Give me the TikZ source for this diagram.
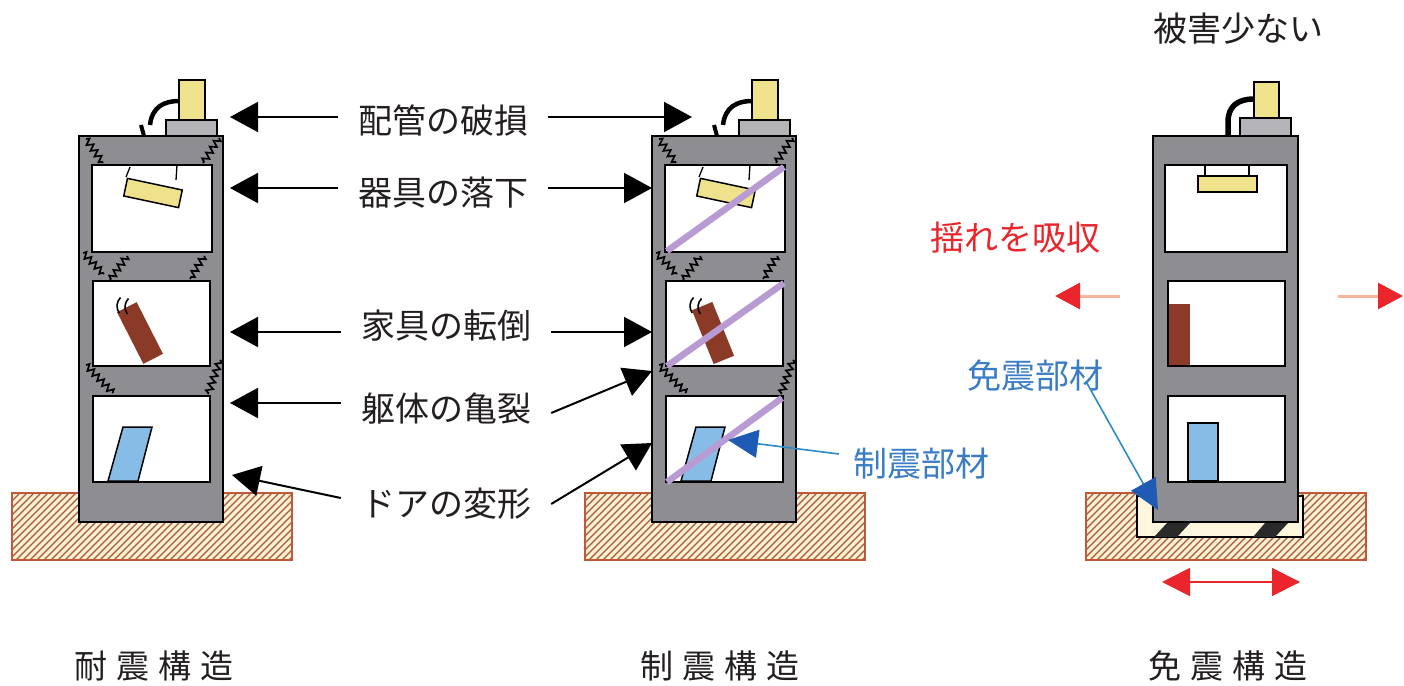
\documentclass[tikz,border=0pt]{standalone}
\usepackage{fontspec}
\newfontfamily\jp{Noto Sans CJK JP}
\usetikzlibrary{arrows.meta,calc,decorations.pathmorphing}

\definecolor{wallgray}{HTML}{8E8E92}
\definecolor{roofgray}{HTML}{B4B4B8}
\definecolor{lampyellow}{HTML}{EEE28C}
\definecolor{furnbrown}{HTML}{8C3A28}
\definecolor{doorblue}{HTML}{86BCE6}
\definecolor{bracepurple}{HTML}{B99BD3}
\definecolor{soilcream}{HTML}{FBF0D2}
\definecolor{soilbrown}{HTML}{A85A38}
\definecolor{soiledge}{HTML}{C0583A}
\definecolor{padcream}{HTML}{FDF6DC}
\definecolor{bearing}{HTML}{2A2A2A}
\definecolor{alertred}{HTML}{E8262B}
\definecolor{tailpink}{HTML}{F5B596}
\definecolor{noteblue}{HTML}{3B7DC4}
\definecolor{leaderblue}{HTML}{2B8BC8}
\definecolor{deepblue}{HTML}{1F5BB5}
\definecolor{textdark}{HTML}{231F20}

\tikzset{
  housefr/.style={fill=wallgray, draw=black, line width=2bp},
  room/.style={fill=white, draw=black, line width=2bp},
  thinline/.style={draw=black, line width=1.5bp},
  crackline/.style={draw=black, line width=1.7bp, decorate,
    decoration={zigzag, segment length=7bp, amplitude=3.2bp}},
  bracebar/.style={draw=bracepurple, line width=6.5bp},
  lbl/.style={font=\jp\fontsize{34bp}{40bp}\selectfont, text=textdark,
    inner xsep=20bp, inner ysep=0bp},
  title/.style={font=\jp\fontsize{33bp}{40bp}\selectfont, text=textdark, inner sep=0bp},
  callout/.style={draw=black, line width=2bp, -{Triangle[length=28bp,width=30bp]}},
}

% hatched ground block: x1 y1 x2 y2
\newcommand\soilbed[4]{%
  \begin{scope}
    \clip (#1,#2) rectangle (#3,#4);
    \fill[soilcream] (#1,#2) rectangle (#3,#4);
    \foreach \k in {0,...,52}
      \draw[soilbrown, line width=1.25bp] ({#1-75+7*\k},#4+2) -- ++(75,-75);
  \end{scope}
  \draw[soiledge, line width=1.2bp] (#1,#2) rectangle (#3,#4);
}

% damaged building (frame, roof equipment, lamp, furniture, door, cracks)
\newcommand\damagedhouse[1]{%
  \path[housefr] (79,136) rectangle (223,522);
  \path[room] (92,165) rectangle (212,252);
  \path[room] (93,281) rectangle (210,366);
  \path[room] (93,396) rectangle (210,482);
  % roof unit and broken pipe
  \path[thinline, fill=roofgray] (166,120) rectangle (217,136);
  \path[thinline, fill=lampyellow] (179,80) rectangle (205,120);
  \draw[line width=4.5bp] (150,125) .. controls (152,107) and (164,101) .. (179,101);
  \draw[line width=4bp] (141,125) -- (144,136);
  % hanging lamp with one wire torn
  \draw[line width=1.3bp] (177,165) -- (176,180);
  \draw[line width=1.3bp] (130,167) -- (126,177);
  \path[thinline, fill=lampyellow, rotate around={-12:(153,193)}] (125,184) rectangle (181,202);
  % toppling furniture with shaking marks
  \fill[furnbrown, rotate around={#1:(140,333)}] (129,304) rectangle (151,362);
  \draw[line width=1.6bp] ([shift={(145:12)}]129,306) arc[start angle=145, end angle=225, radius=12];
  \draw[line width=1.6bp] ([shift={(145:12)}]137,307) arc[start angle=145, end angle=225, radius=12];
  % deformed door
  \path[thinline, fill=doorblue] (108,481) -- (138,481) -- (152,427) -- (123,427) -- cycle;
  % cracks in the slabs
  \draw[crackline] (86,139) -- (103,163);
  \draw[crackline] (219,138) -- (203,163);
  \draw[crackline] (83,253) -- (104,274);
  \draw[crackline] (127,256) -- (110,280);
  \draw[crackline] (204,256) -- (190,279);
  \draw[crackline] (86,365) -- (113,393);
  \draw[crackline] (220,360) -- (208,394);
}

\begin{document}
\begin{tikzpicture}[x=1bp, y=-1bp]
\useasboundingbox (0,0) rectangle (1404,686);

% ---------------- grounds ----------------
\soilbed{12}{493}{292}{560}
\soilbed{585}{493}{865}{560}
\soilbed{1086}{493}{1366}{560}

% ---------------- earthquake-resistant building ----------------
\damagedhouse{27}

% ---------------- damped building ----------------
\begin{scope}[shift={(573,0)}]
  \damagedhouse{22}
\end{scope}
\draw[bracebar] (667,251) -- (784,167);
\draw[bracebar] (667,366) -- (784,283);
\draw[bracebar] (667,482) -- (782,398);

% ---------------- base-isolated building ----------------
\path[thinline, fill=padcream] (1137,496) rectangle (1303,537);
\fill[bearing] (1154,537) -- (1177,537) -- (1190,523) -- (1167,523) -- cycle;
\fill[bearing] (1253,537) -- (1275,537) -- (1288,523) -- (1265,523) -- cycle;
\path[housefr] (1153,136) rectangle (1298,522);
\path[room] (1165,165) rectangle (1287,252);
\path[room] (1168,281) rectangle (1285,366);
\path[room] (1168,396) rectangle (1285,482);
\path[thinline, fill=roofgray] (1240,118) rectangle (1291,136);
\path[thinline, fill=lampyellow] (1254,82) rectangle (1279,118);
\draw[line width=5.5bp] (1228,136) -- (1228,122) .. controls (1228,106) and (1238,99) .. (1254,99);
\draw[line width=1.3bp] (1205,165) -- (1205,176) (1249,165) -- (1249,176);
\path[thinline, fill=lampyellow] (1198,176) rectangle (1257,192);
\fill[furnbrown] (1169,304) rectangle (1190,365);
\path[thinline, fill=doorblue] (1188,423) rectangle (1218,481);

% ---------------- damage labels and arrows ----------------
\node[lbl] (pipe) at (443,121) {配管の破損};
\node[lbl] (fixture) at (443,193) {器具の落下};
\node[lbl] (furniture) at (446,326) {家具の転倒};
\node[lbl] (fissure) at (446,409) {躯体の亀裂};
\node[lbl] (door) at (446,504) {ドアの変形};

\coordinate (pipeL) at (230,117);
\coordinate (fixtureL) at (230,188);
\coordinate (furnitureL) at (230,332);
\coordinate (fissureL) at (230,403);
\coordinate (doorL) at (232,475);
\coordinate (pipeR) at (692,117);
\coordinate (fixtureR) at (652,188);
\coordinate (furnitureR) at (652,332);
\coordinate (fissureR) at (652,371);
\coordinate (doorR) at (652,443);

\draw[callout] (pipe.west |- pipeL) -- (pipeL);
\draw[callout] (fixture.west |- fixtureL) -- (fixtureL);
\draw[callout] (furniture.west |- furnitureL) -- (furnitureL);
\draw[callout] (fissure.west |- fissureL) -- (fissureL);
\draw[callout] ([yshift=6bp]door.west) -- (doorL);
\draw[callout] (pipe.east |- pipeR) -- (pipeR);
\draw[callout] (fixture.east |- fixtureR) -- (fixtureR);
\draw[callout] (furniture.east |- furnitureR) -- (furnitureR);
\draw[callout] ([yshift=-4bp]fissure.east) -- (fissureR);
\draw[callout] (door.east) -- (doorR);

% ---------------- damper / isolator notes ----------------
\node[lbl, text=noteblue, inner xsep=0bp] (damper) at (921,464) {制震部材};
\coordinate (damperTip) at (728,440);
\draw[leaderblue, line width=1.6bp, -{Triangle[length=30bp,width=28bp,color=deepblue]}]
  ([xshift=-14bp,yshift=10bp]damper.west) -- (damperTip);

\node[lbl, text=noteblue, inner xsep=0bp] (isolator) at (1035,376) {免震部材};
\coordinate (isolatorTip) at (1158,510);
\draw[leaderblue, line width=1.6bp, -{Triangle[length=30bp,width=28bp,color=deepblue]}]
  ([xshift=-17bp,yshift=10bp]isolator.south east) -- (isolatorTip);

\node[lbl, text=alertred, inner xsep=0bp] (absorb) at (1015,238) {揺れを吸収};
\node[lbl, inner xsep=0bp] (minor) at (1238,29) {被害少ない};

% sway arrows of the isolated building
\coordinate (swayLtail) at (1120,296);
\coordinate (swayLtip) at (1055,296);
\coordinate (swayRtail) at (1338,296);
\coordinate (swayRtip) at (1403,296);
\draw[tailpink, line width=3bp, -{Triangle[length=25bp,width=26bp,color=alertred]}] (swayLtail) -- (swayLtip);
\draw[tailpink, line width=3bp, -{Triangle[length=25bp,width=26bp,color=alertred]}] (swayRtail) -- (swayRtip);
\coordinate (groundL) at (1162,582);
\coordinate (groundR) at (1300,582);
\draw[alertred, line width=2bp, {Triangle[length=28bp,width=28bp]}-{Triangle[length=28bp,width=28bp]}] (groundL) -- (groundR);

% ---------------- titles ----------------
\node[title] (t1) at (154,666) {耐\hspace{9bp}震\hspace{9bp}構\hspace{9bp}造};
\node[title] (t2) at (720,666) {制\hspace{9bp}震\hspace{9bp}構\hspace{9bp}造};
\node[title] (t3) at (1228,666) {免\hspace{9bp}震\hspace{9bp}構\hspace{9bp}造};

\end{tikzpicture}
\end{document}
